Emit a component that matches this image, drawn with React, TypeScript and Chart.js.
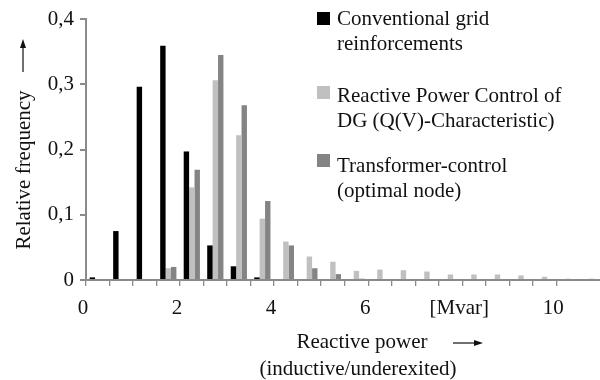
import React, { useEffect, useRef } from "react";
import { Chart, registerables } from "chart.js";

Chart.register(...registerables);

// Bin centres of reactive power [Mvar] (0.5 Mvar bins)
const binCenters = [
  0.25, 0.75, 1.25, 1.75, 2.25, 2.75, 3.25, 3.75, 4.25, 4.75, 5.25,
  5.75, 6.25, 6.75, 7.25, 7.75, 8.25, 8.75, 9.25, 9.75, 10.25, 10.75,
];

const conventional = [
  0.004, 0.075, 0.296, 0.359, 0.197, 0.053, 0.021, 0.004, 0, 0, 0,
  0, 0, 0, 0, 0, 0, 0, 0, 0, 0, 0,
];
const reactiveQV = [
  0, 0, 0, 0.018, 0.142, 0.306, 0.222, 0.094, 0.059, 0.036, 0.028,
  0.014, 0.016, 0.015, 0.013, 0.0085, 0.0085, 0.0085, 0.007, 0.005, 0.002, 0.002,
];
const transformer = [
  0, 0, 0, 0.02, 0.169, 0.345, 0.268, 0.121, 0.053, 0.018, 0.009,
  0.002, 0, 0, 0, 0, 0, 0, 0, 0, 0, 0,
];

const seriesNames = [
  ["Conventional grid", "reinforcements"],
  ["Reactive Power Control of", "DG (Q(V)-Characteristic)"],
  ["Transformer-control", "(optimal node)"],
];
const seriesColors = ["#000000", "#c0c0c0", "#848484"];

const yTickValues = [0, 0.1, 0.2, 0.3, 0.4];
const xLabelled = [0, 2, 4, 6, 8, 10];
const xUnitLabel = "[Mvar]";
const yTitle = "Relative frequency";
const xTitle1 = "Reactive power";
const xTitle2 = "(inductive/underexited)";

const FONT = '"Liberation Serif"';
const AXIS = "#8a8a8a";

const annotations = {
  id: "annotations",
  afterDraw(chart: any) {
    const ctx = chart.ctx as CanvasRenderingContext2D;
    ctx.save();
    ctx.fillStyle = "#111";
    ctx.strokeStyle = "#111";
    ctx.font = `21px ${FONT}`;
    ctx.textBaseline = "alphabetic";
    ctx.textAlign = "left";

    // legend
    const squareTops = [12, 86, 154];
    const baselines = [25, 101.5, 171.5];
    seriesNames.forEach((lines, i) => {
      ctx.fillStyle = seriesColors[i];
      ctx.fillRect(317, squareTops[i], 13, 13);
      ctx.fillStyle = "#111";
      lines.forEach((ln, j) => {
        ctx.fillText(ln, 337, baselines[i] + j * 25);
      });
    });

    // y title
    ctx.save();
    ctx.translate(24, 170);
    ctx.rotate(-Math.PI / 2);
    ctx.textAlign = "center";
    ctx.textBaseline = "middle";
    ctx.fillText(yTitle, 0, 0);
    ctx.restore();
    // y arrow
    ctx.lineWidth = 1.2;
    ctx.beginPath();
    ctx.moveTo(23, 72);
    ctx.lineTo(23, 46);
    ctx.stroke();
    ctx.beginPath();
    ctx.moveTo(23, 39);
    ctx.lineTo(20, 48);
    ctx.lineTo(26, 48);
    ctx.closePath();
    ctx.fill();

    // x title
    ctx.textAlign = "center";
    ctx.fillText(xTitle1, 362, 348);
    ctx.fillText(xTitle2, 358, 375);
    ctx.beginPath();
    ctx.moveTo(453, 343);
    ctx.lineTo(476, 343);
    ctx.stroke();
    ctx.beginPath();
    ctx.moveTo(483, 343);
    ctx.lineTo(474, 340);
    ctx.lineTo(474, 346);
    ctx.closePath();
    ctx.fill();

    ctx.restore();
  },
};

export default function App() {
  const ref = useRef<HTMLCanvasElement>(null);
  useEffect(() => {
    document.body.style.margin = "0";
    if (!ref.current) return;
    const mk = (vals: number[]) => binCenters.map((x, i) => ({ x, y: vals[i] }));
    const chart = new Chart(ref.current, {
      type: "bar",
      data: {
        datasets: [conventional, reactiveQV, transformer].map((vals, i) => ({
          label: seriesNames[i].join(" "),
          data: mk(vals),
          backgroundColor: seriesColors[i],
          borderWidth: 0,
          categoryPercentage: 0.69,
          barPercentage: 1,
        })),
      },
      options: {
        responsive: false,
        animation: false,
        font: { family: FONT },
        layout: { padding: { top: 19, right: 0, left: 0, bottom: 0 } },
        plugins: { legend: { display: false }, tooltip: { enabled: false } },
        scales: {
          x: {
            type: "linear",
            offset: false,
            min: 0,
            max: 10.93,
            afterFit: (s: any) => {
              s.height = 100;
            },
            afterBuildTicks: (s: any) => {
              s.ticks = s.ticks.filter((t: any) => Math.abs(t.value * 2 - Math.round(t.value * 2)) < 1e-6);
            },
            ticks: {
              stepSize: 0.5,
              autoSkip: false,
              maxRotation: 0,
              padding: 10,
              labelOffset: -3,
              color: "#111",
              font: { family: FONT, size: 21 },
              callback: (v: any) => {
                const n = Number(v);
                if (!xLabelled.includes(n)) return "";
                return n === 8 ? xUnitLabel : String(n);
              },
            },
            grid: {
              offset: false,
              drawOnChartArea: false,
              drawTicks: true,
              tickLength: 6,
              color: AXIS,
              lineWidth: 1.3,
            },
            border: { color: AXIS, width: 2 },
          },
          y: {
            min: 0,
            max: 0.4,
            afterFit: (s: any) => {
              s.width = 86;
            },
            afterBuildTicks: (s: any) => {
              s.ticks = yTickValues.map((v) => ({ value: v }));
            },
            ticks: {
              padding: 6,
              color: "#111",
              font: { family: FONT, size: 21 },
              callback: (v: any) => (Number(v) === 0 ? "0" : Number(v).toFixed(1).replace(".", ",")),
            },
            grid: {
              drawOnChartArea: false,
              drawTicks: true,
              tickLength: 6,
              color: AXIS,
              lineWidth: 2,
            },
            border: { color: AXIS, width: 2 },
          },
        },
      },
      plugins: [annotations],
    } as any);
    return () => chart.destroy();
  }, []);
  return <canvas ref={ref} width={600} height={380} style={{ display: "block" }} />;
}
